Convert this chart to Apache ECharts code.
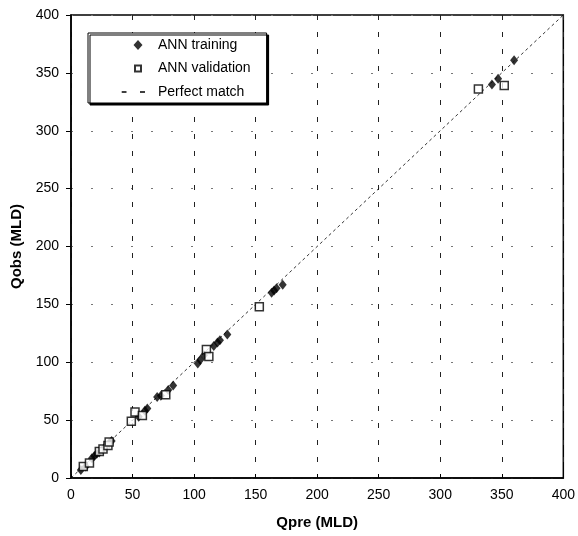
<!DOCTYPE html>
<html><head><meta charset="utf-8">
<script src="https://cdn.jsdelivr.net/npm/echarts@6/dist/echarts.min.js"></script>
<style>html,body{margin:0;padding:0;background:#fff}#c{width:578px;height:536px}</style>
</head><body><div id="c"></div>
<script>
const trainingX = [8, 12, 17, 19, 21, 23, 27, 31, 33, 55, 60, 62, 70, 73, 79, 83, 103, 105, 108, 116, 119, 121, 127, 163, 165, 167, 172, 342, 347, 360];
const trainingY = [7, 10, 17, 19, 21, 22, 26, 30, 32, 53, 58, 60, 70, 71, 76, 80, 99, 102, 106, 114, 117, 119, 124, 160, 162, 164, 167, 340, 345, 361];
const validationX = [10, 15, 23, 26, 30, 31, 49, 52, 58, 77, 110, 112, 153, 331, 352];
const validationY = [10, 13, 23, 25, 28, 31, 49, 57, 54, 72, 111, 105, 148, 336, 339];
const perfectLine = [[0, 0], [400, 400]];
const ticks = [0, 50, 100, 150, 200, 250, 300, 350, 400];

const zip = (a, b) => a.map((v, i) => [v, b[i]]);
const chart = echarts.init(document.getElementById('c'), null, {renderer: 'canvas'});
const font = 'Liberation Sans, Arial, sans-serif';
// legend icons drawn in a 24x14 box (corner specks fix the bounding box)
const corners = 'M0,0 L0.01,0 L0,0.01 Z M24,14 L23.99,14 L24,13.99 Z ';
const iconDiamond = 'path://' + corners + 'M17,2 L21.5,7 L17,12 L12.5,7 Z';
const iconSquare = 'path://' + corners + 'M13,3 L21,3 L21,11 L13,11 Z M15,5 L15,9 L19,9 L19,5 Z';
const iconDash = 'path://' + corners + 'M0.7,6.2 L5.5,6.2 L5.5,7.8 L0.7,7.8 Z M19,6.2 L24,6.2 L24,7.8 L19,7.8 Z';

chart.setOption({
  animation: false,
  backgroundColor: '#fff',
  grid: {left: 71, right: 11, top: 15, bottom: 58, show: true, borderColor: '#000', borderWidth: 1.5, backgroundColor: 'transparent'},
  xAxis: {
    type: 'value', min: 0, max: 400, interval: 50,
    name: 'Qpre (MLD)', nameLocation: 'middle', nameGap: 37,
    nameTextStyle: {fontFamily: font, fontWeight: 'bold', fontSize: 15, color: '#000'},
    axisLine: {lineStyle: {color: '#000', width: 1.5}},
    axisTick: {inside: true, length: 4, lineStyle: {color: '#000'}},
    axisLabel: {fontFamily: font, fontSize: 14, color: '#000', margin: 10, formatter: v => ticks.includes(v) ? String(v) : ''},
    splitLine: {show: true, lineStyle: {color: '#222', width: 1, type: [5, 12]}}
  },
  yAxis: {
    type: 'value', min: 0, max: 400, interval: 50,
    name: 'Qobs (MLD)', nameLocation: 'middle', nameGap: 47, nameRotate: 90,
    nameTextStyle: {fontFamily: font, fontWeight: 'bold', fontSize: 15, color: '#000'},
    axisLine: {lineStyle: {color: '#000', width: 1.5}},
    axisTick: {inside: false, length: 5, lineStyle: {color: '#000'}},
    axisLabel: {fontFamily: font, fontSize: 14, color: '#000', margin: 12, formatter: v => ticks.includes(v) ? String(v) : ''},
    splitLine: {show: true, lineStyle: {color: '#777', width: 1, type: [2, 18]}}
  },
  legend: {
    orient: 'vertical', left: 88, top: 33,
    padding: [5, 16, 4, 33], itemGap: 9.5, itemWidth: 24, itemHeight: 14,
    backgroundColor: '#fff', borderColor: '#000', borderWidth: 1,
    shadowColor: '#000', shadowOffsetX: 2, shadowOffsetY: 2, shadowBlur: 0.1,
    textStyle: {fontFamily: font, fontSize: 14, color: '#000', padding: [0, 0, 0, 8]},
    data: [
      {name: 'ANN training', icon: iconDiamond, itemStyle: {color: '#000', borderWidth: 0}},
      {name: 'ANN validation', icon: iconSquare, itemStyle: {color: '#000', borderWidth: 0}},
      {name: 'Perfect match', icon: iconDash, itemStyle: {color: '#000', borderWidth: 0}}
    ]
  },
  series: [
    {
      name: 'Perfect match', type: 'line', data: perfectLine, showSymbol: false, symbol: 'none',
      lineStyle: {color: '#000', width: 0.8, type: [3, 3]}, itemStyle: {color: '#000'}, z: 1, silent: true
    },
    {
      name: 'ANN validation', type: 'scatter', data: zip(validationX, validationY),
      symbol: 'rect', symbolSize: 8,
      itemStyle: {color: '#fff', borderColor: '#000', borderWidth: 1.5}, z: 3
    },
    {
      name: 'ANN training', type: 'scatter', data: zip(trainingX, trainingY),
      symbol: 'diamond', symbolSize: [8, 10],
      itemStyle: {color: '#000'}, z: 2
    }
  ]
});
</script></body></html>
